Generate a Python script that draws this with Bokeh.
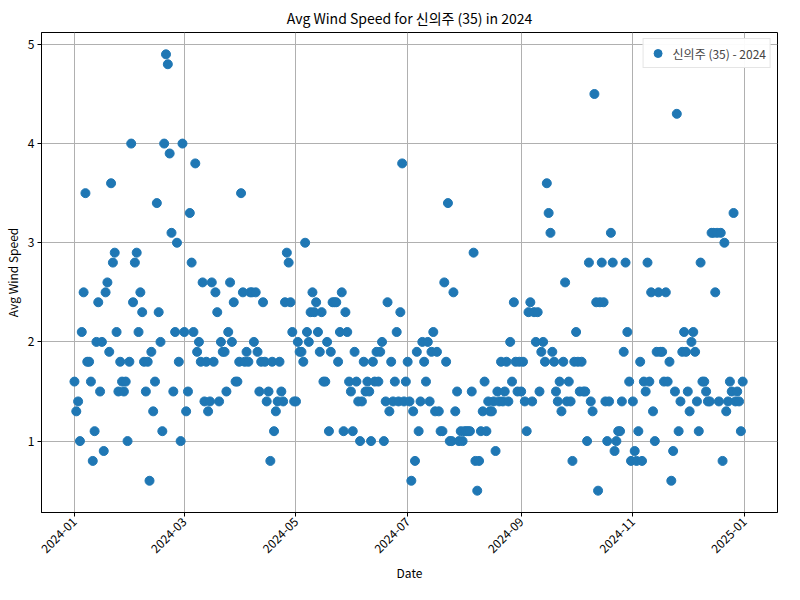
from datetime import datetime, timedelta
from math import pi

from bokeh.plotting import figure
from bokeh.models import FixedTicker, DatetimeTickFormatter, Range1d, ColumnDataSource, Legend
from bokeh.embed import file_html
from bokeh.resources import INLINE

FONT = "Noto Sans CJK KR"

jan = [1.6, 1.3, 1.4, 1.0, 2.1, 2.5, 3.5, 1.8, 1.8, 1.6, 0.8, 1.1, 2.0, 2.4, 1.5, 2.0, 0.9, 2.5, 2.6, 1.9, 3.6, 2.8, 2.9, 2.1, 1.5, 1.8, 1.6, 1.5, 1.6, 1.0, 1.8]
feb = [4.0, 2.4, 2.8, 2.9, 2.1, 2.5, 2.3, 1.8, 1.5, 1.8, 0.6, 1.9, 1.3, 1.6, 3.4, 2.3, 2.0, 1.1, 4.0, 4.9, 4.8, 3.9, 3.1, 1.5, 2.1, 3.0, 1.8, 1.0, 4.0]
mar = [2.1, 1.3, 1.5, 3.3, 2.8, 2.1, 3.8, 1.9, 2.0, 1.8, 2.6, 1.4, 1.8, 1.3, 1.4, 2.6, 1.8, 2.5, 2.3, 1.4, 2.0, 1.9, 1.9, 1.5, 2.1, 2.6, 2.0, 2.4, 1.6, 1.6, 1.8]
apr = [3.5, 2.5, 1.8, 1.9, 1.8, 2.5, 2.5, 2.0, 2.5, 1.9, 1.5, 1.8, 2.4, 1.8, 1.4, 1.5, 0.8, 1.8, 1.1, 1.3, 1.4, 1.8, 1.5, 1.4, 2.4, 2.9, 2.8, 2.4, 2.1, 1.4]
may = [1.4, 2.0, 1.9, 1.9, 1.8, 3.0, 2.1, 2.0, 2.3, 2.5, 2.3, 2.4, 2.1, 1.9, 2.3, 1.6, 1.6, 2.0, 1.1, 1.9, 2.4, 2.4, 2.4, 1.8, 2.1, 2.5, 1.1, 2.3, 2.1, 1.6, 1.5]
jun = [1.1, 1.9, 1.6, 1.4, 1.0, 1.4, 1.8, 1.5, 1.6, 1.5, 1.0, 1.8, 1.6, 1.9, 1.6, 1.9, 2.0, 1.0, 1.4, 2.4, 1.3, 1.8, 1.4, 1.6, 2.1, 1.4, 2.3, 3.8, 1.4, 1.6]
jul = [1.8, 1.4, 0.6, 1.3, 0.8, 1.9, 1.1, 1.4, 2.0, 1.8, 1.6, 2.0, 1.4, 1.9, 2.1, 1.3, 1.9, 1.3, 1.1, 1.1, 2.6, 1.8, 3.4, 1.0, 1.0, 2.5, 1.3, 1.5, 1.0, 1.1, 1.0]
aug = [1.1, 1.1, 1.1, 1.1, 1.5, 2.9, 0.8, 0.5, 0.8, 1.1, 1.3, 1.6, 1.1, 1.4, 1.3, 1.3, 1.4, 0.9, 1.5, 1.4, 1.8, 1.4, 1.5, 1.8, 1.4, 2.0, 1.6, 2.4, 1.8, 1.5, 1.8]
sep = [1.5, 1.8, 1.4, 1.1, 2.3, 2.4, 1.4, 2.3, 2.0, 2.3, 1.5, 1.9, 2.0, 1.8, 3.6, 3.3, 3.1, 1.9, 1.8, 1.5, 1.4, 1.6, 1.3, 1.8, 2.6, 1.4, 1.6, 1.4, 0.8, 1.8]
oct_ = [2.1, 1.8, 1.5, 1.8, 1.5, 1.5, 1.0, 2.8, 1.4, 1.3, 4.5, 2.4, 0.5, 2.4, 2.8, 2.4, 1.4, 1.0, 1.4, 3.1, 2.8, 0.9, 1.0, 1.1, 1.1, 1.4, 1.9, 2.8, 2.1, 1.6, 0.8]
nov = [1.4, 0.9, 0.8, 1.1, 1.8, 0.8, 1.6, 1.5, 2.8, 1.6, 2.5, 1.3, 1.0, 1.9, 2.5, 1.9, 1.9, 1.6, 2.5, 1.6, 1.8, 0.6, 0.9, 1.5, 4.3, 1.1, 1.4, 1.9, 2.1, 1.9]
dec = [1.5, 1.3, 2.0, 2.1, 1.9, 1.4, 1.1, 2.8, 1.6, 1.6, 1.5, 1.4, 1.4, 3.1, 3.1, 2.5, 3.1, 1.4, 3.1, 0.8, 3.0, 1.3, 1.4, 1.6, 1.5, 3.3, 1.4, 1.5, 1.4, 1.1, 1.6]

months = [jan, feb, mar, apr, may, jun, jul, aug, sep, oct_, nov, dec]
tick_months = ["2024-01", "2024-03", "2024-05", "2024-07", "2024-09", "2024-11", "2025-01"]

dates, speeds = [], []
for m, vals in enumerate(months):
    start = datetime(2024, m + 1, 1)
    for i, v in enumerate(vals):
        dates.append(start + timedelta(days=i))
        speeds.append(v)

src = ColumnDataSource(data=dict(date=dates, speed=speeds))

p = figure(x_axis_type="datetime", output_backend="svg", toolbar_location=None,
           width=784, height=584,
           min_border_left=10, min_border_top=10, min_border_right=7, min_border_bottom=10,
           x_range=Range1d(datetime(2023, 12, 14), datetime(2025, 1, 19)),
           y_range=Range1d(0.28, 5.12))
p.title.text = "Avg Wind Speed for 신의주 (35) in 2024"
p.title.align = "center"
p.title.text_font = FONT
p.title.text_font_size = "14px"
p.title.text_font_style = "normal"
p.title.text_color = "black"

r = p.scatter("date", "speed", source=src, size=9, color="#1f77b4")

ticks = [datetime.strptime(t, "%Y-%m").timestamp() * 1000 for t in tick_months]
p.xaxis.ticker = FixedTicker(ticks=ticks)
p.xaxis.formatter = DatetimeTickFormatter(months="%Y-%m", days="%Y-%m", years="%Y-%m")
p.xaxis.major_label_orientation = pi / 4
p.yaxis.ticker = FixedTicker(ticks=[1, 2, 3, 4, 5])
p.xaxis.minor_tick_line_color = None
p.yaxis.minor_tick_line_color = None

p.xaxis.axis_label = "Date"
p.yaxis.axis_label = "Avg Wind Speed"
for ax in (p.xaxis, p.yaxis):
    ax.axis_label_text_font = FONT
    ax.axis_label_text_font_size = "12px"
    ax.axis_label_text_font_style = "normal"
    ax.axis_label_text_color = "black"
    ax.major_label_text_font = FONT
    ax.major_label_text_font_size = "12px"
    ax.major_label_text_color = "black"
    ax.major_tick_out = 4
    ax.major_tick_in = 0
    ax.major_label_standoff = 3
    ax.axis_label_standoff = 4

p.grid.grid_line_color = "#b0b0b0"
p.grid.grid_line_width = 1
p.outline_line_color = "black"

legend = Legend(items=[("신의주 (35) - 2024", [r])], location="top_right")
legend.label_text_font = FONT
legend.label_text_font_size = "12px"
legend.border_line_color = "#cccccc"
legend.padding = 4
legend.spacing = 0
legend.margin = 6
p.add_layout(legend)

open("out.html", "w").write(file_html(p, INLINE))
